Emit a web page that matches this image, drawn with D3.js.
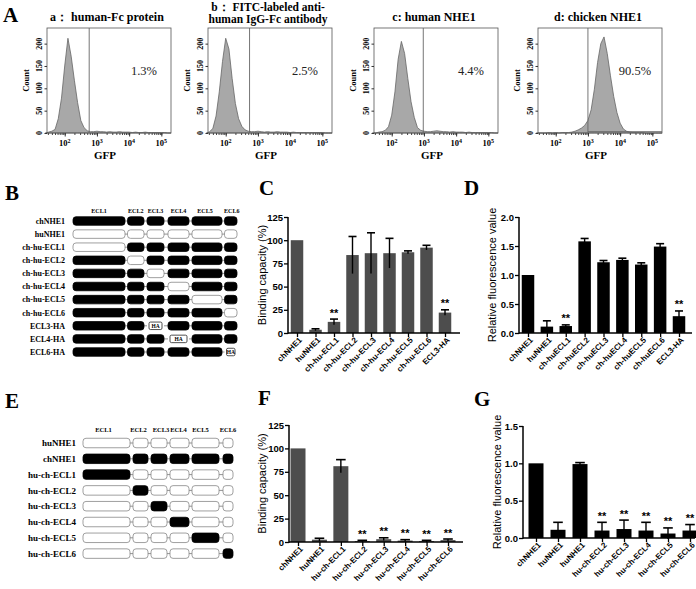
<!DOCTYPE html>
<html>
<head>
<meta charset="utf-8">
<script src="https://cdn.jsdelivr.net/npm/d3@7"></script>
<style>
  body { margin: 0; background: #fff; }
  svg { display: block; }
</style>
</head>
<body>
<svg id="fig" width="696" height="589"></svg>
<script>
// ---------- data ----------
// flow cytometry histograms (log10 GFP bin, counts)
var gfpBins = [1.4,1.5,1.6,1.7,1.8,1.9,2.0,2.1,2.2,2.3,2.4,2.5,2.6,2.7,2.8,2.9,3.0,3.1,3.2,3.3,
               3.4,3.5,3.6,3.7,3.8,3.9,4.0,4.1,4.2,4.3,4.4,4.5,4.6,4.7,4.8,4.9,5.0,5.1,5.2,5.3];
var countA = [0,2,4,8,32,78,150,212,172,118,68,28,12,5,3,3,4,3,3,2,3,2,2,3,2,2,2,1,2,1,1,2,1,1,1,1,1,1,0,0];
var countB = [0,3,10,38,92,160,212,188,122,66,32,15,7,4,3,3,4,3,2,3,2,2,3,2,2,2,1,2,1,1,1,1,1,1,1,1,1,0,0,0];
var countC = [0,0,2,3,6,14,40,92,165,205,178,122,70,35,12,6,4,3,3,4,5,4,3,3,2,3,2,2,2,1,2,1,1,1,1,1,1,1,0,0];
var countD = [0,0,0,0,1,0,1,0,1,1,1,2,4,7,11,17,28,52,98,158,200,215,178,128,82,46,22,9,4,2,1,1,1,1,0,0,0,0,0,0];
var histTitles = [["a\uff1a  human-Fc protein"], ["b\uff1a  FITC-labeled anti-", "human IgG-Fc antibody"],
                  ["c: human NHE1"], ["d: chicken NHE1"]];
var histPercents = ["1.3%", "2.5%", "4.4%", "90.5%"];
var gateLog = [2.76, 2.74, 2.98, 3.0];
var countTicks = [0, 50, 100, 150, 200];
var gfpTicks = [2, 3, 4, 5];

// construct schematics
var eclNames = ["ECL1", "ECL2", "ECL3", "ECL4", "ECL5", "ECL6"];
var schemBNames = ["chNHE1", "huNHE1", "ch-hu-ECL1", "ch-hu-ECL2", "ch-hu-ECL3", "ch-hu-ECL4",
                   "ch-hu-ECL5", "ch-hu-ECL6", "ECL3-HA", "ECL4-HA", "ECL6-HA"];
var schemBRows = ["cccccc", "hhhhhh", "hccccc", "chcccc", "cchccc", "ccchcc",
                  "cccchc", "ccccch", "ccAccc", "cccAcc", "cccccA"];
var schemENames = ["huNHE1", "chNHE1", "hu-ch-ECL1", "hu-ch-ECL2", "hu-ch-ECL3", "hu-ch-ECL4",
                   "hu-ch-ECL5", "hu-ch-ECL6"];
var schemERows = ["hhhhhh", "cccccc", "chhhhh", "hchhhh", "hhchhh", "hhhchh", "hhhhch", "hhhhhc"];

// C: binding capacity
var catsC = ["chNHE1", "huNHE1", "ch-hu-ECL1", "ch-hu-ECL2", "ch-hu-ECL3", "ch-hu-ECL4", "ch-hu-ECL5", "ch-hu-ECL6", "ECL3-HA"];
var valsC = [100, 3.5, 12, 84, 86, 86, 87, 92, 22];
var errsC = [0, 1, 3, 20, 22, 16, 1.5, 2.5, 3];
var starsC = ["", "", "**", "", "", "", "", "", "**"];
// D: relative fluorescence
var catsD = ["chNHE1", "huNHE1", "ch-huECL1", "ch-huECL2", "ch-huECL3", "ch-huECL4", "ch-huECL5", "ch-huECL6", "ECL3-HA"];
var valsD = [1.0, 0.11, 0.12, 1.58, 1.22, 1.26, 1.18, 1.49, 0.29];
var errsD = [0, 0.1, 0.02, 0.05, 0.03, 0.03, 0.03, 0.05, 0.09];
var starsD = ["", "", "**", "", "", "", "", "", "**"];
// F: binding capacity
var catsF = ["chNHE1", "huNHE1", "hu-ch-ECL1", "hu-ch-ECL2", "hu-ch-ECL3", "hu-ch-ECL4", "hu-ch-ECL5", "hu-ch-ECL6"];
var valsF = [100, 2.5, 81, 1, 3, 1.5, 1, 2];
var errsF = [0, 1.5, 7, 0.8, 1.5, 1, 0.8, 1.2];
var starsF = ["", "", "", "**", "**", "**", "**", "**"];
// G: relative fluorescence
var catsG = ["chNHE1", "huNHE1", "huNHE1", "hu-ch-ECL2", "hu-ch-ECL3", "hu-ch-ECL4", "hu-ch-ECL5", "hu-ch-ECL6"];
var valsG = [1.0, 0.11, 0.99, 0.10, 0.12, 0.10, 0.06, 0.10];
var errsG = [0, 0.1, 0.02, 0.11, 0.12, 0.11, 0.075, 0.08];
var starsG = ["", "", "", "**", "**", "**", "**", "**"];

// ---------- drawing ----------
var SERIF = "'Liberation Serif','Times New Roman',serif";
var SANS = "'Liberation Sans',Arial,sans-serif";
var svg = d3.select("#fig");

function letter(t, x, y) {
    svg.append("text").attr("x", x).attr("y", y)
        .style("font-family", SERIF).style("font-weight", "bold").style("font-size", "21px")
        .text(t);
}

letter("A", 3, 22);
letter("B", 5, 200);
letter("C", 259, 195);
letter("D", 464, 195);
letter("E", 5, 408);
letter("F", 258, 405);
letter("G", 474, 406);

// ----- panel A histograms -----
var histLeft = [47, 208, 374, 538];
var histW = 124, histTop = 28, histBottom = 133;
var counts = [countA, countB, countC, countD];

counts.forEach(function (cnt, k) {
    var left = histLeft[k];
    var g = svg.append("g");
    var x = d3.scaleLog().domain([Math.pow(10, 1.45), Math.pow(10, 5.3)]).range([left, left + histW]);
    var y = d3.scaleLinear().domain([0, 235]).range([histBottom, histTop]);

    var pts = gfpBins.map(function (b, i) { return { v: Math.pow(10, b), c: cnt[i] }; });
    g.append("path").datum(pts)
        .attr("d", d3.area().x(function (d) { return x(d.v); }).y0(y(0)).y1(function (d) { return y(d.c); }))
        .attr("fill", "#a8a8a8").attr("stroke", "#666").attr("stroke-width", 0.8);

    // frame
    g.append("rect").attr("x", left).attr("y", histTop).attr("width", histW).attr("height", histBottom - histTop)
        .attr("fill", "none").attr("stroke", "#555").attr("stroke-width", 0.8);

    // gate
    var gx = x(Math.pow(10, gateLog[k]));
    g.append("line").attr("x1", gx).attr("x2", gx).attr("y1", histTop).attr("y2", histBottom)
        .attr("stroke", "#666").attr("stroke-width", 0.9);
    if (k === 3) {
        g.append("line").attr("x1", gx).attr("x2", left + histW).attr("y1", y(3)).attr("y2", y(3))
            .attr("stroke", "#666").attr("stroke-width", 0.9);
    }

    // x axis minor + major ticks
    var minor = x.ticks().filter(function (t) { return x(t) >= left && x(t) <= left + histW; });
    g.append("g").attr("transform", "translate(0," + histBottom + ")")
        .call(d3.axisBottom(x).tickValues(minor).tickSize(2).tickFormat("").tickSizeOuter(0))
        .call(function (s) { s.select(".domain").remove(); s.selectAll("line").attr("stroke", "#444"); });
    g.append("g").attr("transform", "translate(0," + histBottom + ")")
        .call(d3.axisBottom(x).tickValues(gfpTicks.map(function (p) { return Math.pow(10, p); }))
            .tickSize(3.5).tickFormat("").tickSizeOuter(0))
        .call(function (s) { s.select(".domain").remove(); s.selectAll("line").attr("stroke", "#333"); });

    var lab = g.selectAll(".xl").data(gfpTicks).enter().append("text")
        .attr("x", function (p) { return x(Math.pow(10, p)); }).attr("y", 146)
        .attr("text-anchor", "middle")
        .style("font-family", SERIF).style("font-weight", "bold").style("font-size", "8.5px");
    lab.append("tspan").text("10");
    lab.append("tspan").attr("dy", -3).style("font-size", "6px").text(function (p) { return p; });

    // y axis
    g.append("g").attr("transform", "translate(" + left + ",0)")
        .call(d3.axisLeft(y).tickValues(countTicks).tickSize(2.5).tickFormat("").tickSizeOuter(0))
        .call(function (s) { s.select(".domain").remove(); s.selectAll("line").attr("stroke", "#333"); });
    g.selectAll(".yl").data(countTicks).enter().append("text")
        .attr("transform", function (t) { return "translate(" + (left - 5.5) + "," + y(t) + ") rotate(-90)"; })
        .attr("text-anchor", "middle")
        .style("font-family", SERIF).style("font-weight", "bold").style("font-size", "8px")
        .text(function (t) { return t; });
    g.append("text")
        .attr("transform", "translate(" + (left - 18) + "," + ((histTop + histBottom) / 2) + ") rotate(-90)")
        .attr("text-anchor", "middle")
        .style("font-family", SERIF).style("font-weight", "bold").style("font-size", "8.5px")
        .text("Count");

    // labels
    g.append("text").attr("x", left + histW / 2 - 4).attr("y", 159).attr("text-anchor", "middle")
        .style("font-family", SERIF).style("font-weight", "bold").style("font-size", "11px").text("GFP");
    var tl = histTitles[k];
    tl.forEach(function (line, j) {
        g.append("text").attr("x", left + histW / 2 - 2).attr("y", tl.length > 1 ? 11 + j * 12 : 21)
            .attr("text-anchor", "middle")
            .style("font-family", SERIF).style("font-weight", "bold")
            .style("font-size", tl.length > 1 ? "11.5px" : "12px")
            .text(line);
    });
    g.append("text").attr("x", left + 97).attr("y", 75).attr("text-anchor", "middle")
        .style("font-family", SERIF).style("font-size", "12.5px").style("fill", "#222")
        .text(histPercents[k]);
});

// ----- schematics B / E -----
function schematic(names, rows, o) {
    var g = svg.append("g");
    var y = d3.scalePoint().domain(d3.range(names.length)).range([o.y0, o.y0 + (names.length - 1) * o.dy]);
    var segs = o.segs;

    g.selectAll(".hd").data(eclNames).enter().append("text")
        .attr("x", function (d, i) { return (segs[i][0] + segs[i][1]) / 2 + (o.hdShift ? o.hdShift[i] : 0); })
        .attr("y", o.headerY).attr("text-anchor", "middle")
        .style("font-family", SERIF).style("font-weight", "bold").style("font-size", o.hdSize + "px")
        .text(function (d) { return d; });

    names.forEach(function (name, r) {
        var cy = y(r);
        g.append("text").attr("x", o.labelX).attr("y", cy + o.fs * 0.35).attr("text-anchor", "end")
            .style("font-family", SERIF).style("font-weight", "bold").style("font-size", o.fs + "px")
            .text(name);
        for (var i = 0; i < segs.length - 1; i++) {
            g.append("line").attr("x1", segs[i][1]).attr("x2", segs[i + 1][0]).attr("y1", cy).attr("y2", cy)
                .attr("stroke", "#777").attr("stroke-width", 0.8);
        }
        rows[r].split("").forEach(function (t, i) {
            var x0 = segs[i][0], x1 = segs[i][1];
            if (t === "A") {
                g.append("rect").attr("x", x0 + 2).attr("y", cy - o.h / 2 + 0.5).attr("width", x1 - x0 - 4)
                    .attr("height", o.h - 1).attr("rx", 1.5).attr("fill", "#fff").attr("stroke", "#222").attr("stroke-width", 0.8);
                g.append("text").attr("x", (x0 + x1) / 2).attr("y", cy + 2).attr("text-anchor", "middle")
                    .style("font-family", SERIF).style("font-weight", "bold").style("font-size", "5.5px").text("HA");
            } else {
                g.append("rect").attr("x", x0).attr("y", cy - o.h / 2).attr("width", x1 - x0).attr("height", o.h)
                    .attr("rx", 3).attr("fill", t === "c" ? "#000" : "#fff")
                    .attr("stroke", t === "c" ? "#000" : "#888").attr("stroke-width", 0.8);
            }
        });
    });
}

schematic(schemBNames, schemBRows, {
    y0: 221, dy: 13.1, h: 8.5, labelX: 65, headerY: 213, fs: 8, hdSize: 6,
    segs: [[73, 125], [127.5, 144], [147, 164], [168, 189], [192, 222], [224.5, 237]],
    hdShift: [0, 0, 0, 0, -2, 1]
});
schematic(schemENames, schemERows, {
    y0: 443, dy: 15.8, h: 9.5, labelX: 76, headerY: 432, fs: 9, hdSize: 6.5,
    segs: [[83, 130], [133, 148], [151, 167], [170, 189], [192, 219], [223, 233]],
    hdShift: [-3, -2, 2, -1, -5, 0]
});

// ----- bar charts -----
function barChart(o) {
    var g = svg.append("g");
    var n = o.cats.length;
    var x = d3.scalePoint().domain(d3.range(n)).range([o.c0, o.c1]);
    var y = d3.scaleLinear().domain([0, o.max]).range([o.y0, o.y1]);

    g.selectAll(".bar").data(o.vals).enter().append("rect")
        .attr("x", function (d, i) { return x(i) - o.bw / 2; })
        .attr("y", function (d) { return y(d); })
        .attr("width", o.bw)
        .attr("height", function (d) { return y(0) - y(d); })
        .attr("fill", o.fill);

    // error bars
    o.vals.forEach(function (v, i) {
        var e = o.errs[i];
        if (!e) return;
        g.append("line").attr("x1", x(i)).attr("x2", x(i)).attr("y1", y(v - e)).attr("y2", y(v + e))
            .attr("stroke", "#000").attr("stroke-width", 1.4);
        g.append("line").attr("x1", x(i) - o.bw * 0.32).attr("x2", x(i) + o.bw * 0.32)
            .attr("y1", y(v + e)).attr("y2", y(v + e)).attr("stroke", "#000").attr("stroke-width", 1.6);
        if (o.stars[i]) {
            g.append("text").attr("x", x(i)).attr("y", y(v + e) - 2.5).attr("text-anchor", "middle")
                .style("font-family", SANS).style("font-size", "11px").style("font-weight", "bold")
                .text(o.stars[i]);
        }
    });

    // y axis
    g.append("g").attr("transform", "translate(" + o.ax + ",0)")
        .call(d3.axisLeft(y).tickValues(o.ticks).tickFormat(o.fmt).tickSize(4).tickSizeOuter(0))
        .call(function (s) {
            s.select(".domain").attr("stroke-width", 1.5).attr("d", "M0," + (o.y0 + 0.75) + "V" + o.y1);
            s.selectAll("line").attr("stroke-width", 1.3);
            s.selectAll("text").style("font-family", SANS).style("font-size", "9.5px").style("font-weight", "bold").attr("x", -5);
        });

    // x axis
    g.append("g").attr("transform", "translate(0," + o.y0 + ")")
        .call(d3.axisBottom(x).tickSize(4).tickSizeOuter(0).tickFormat(function (i) { return o.cats[i]; }))
        .call(function (s) {
            s.select(".domain").attr("stroke-width", 1.5).attr("d", "M" + o.ax + ",0H" + o.axEnd);
            s.selectAll("line").attr("stroke-width", 1.3);
            s.selectAll("text").attr("x", -2).attr("y", 6).attr("dy", "0.35em")
                .attr("transform", "rotate(-45)").style("text-anchor", "end")
                .style("font-family", SANS).style("font-size", "8px").style("font-weight", "bold");
        });

    g.append("text")
        .attr("transform", "translate(" + o.lx + "," + ((o.y0 + o.y1) / 2) + ") rotate(-90)")
        .attr("text-anchor", "middle")
        .style("font-family", SANS).style("font-size", "11px")
        .text(o.ylabel);
}

barChart({ cats: catsC, vals: valsC, errs: errsC, stars: starsC, fill: "#4d4d4d",
    c0: 297, c1: 445, bw: 12.5, ax: 288, axEnd: 460, y0: 333, y1: 217, max: 125,
    ticks: [0, 25, 50, 75, 100, 125], fmt: d3.format("d"), lx: 266, ylabel: "Binding capacity (%)" });
barChart({ cats: catsD, vals: valsD, errs: errsD, stars: starsD, fill: "#000",
    c0: 528, c1: 679, bw: 12.5, ax: 519, axEnd: 692, y0: 333, y1: 217, max: 2.0,
    ticks: [0, 0.5, 1.0, 1.5, 2.0], fmt: d3.format(".1f"), lx: 496, ylabel: "Relative fluorescence value" });
barChart({ cats: catsF, vals: valsF, errs: errsF, stars: starsF, fill: "#4d4d4d",
    c0: 298, c1: 448, bw: 15, ax: 289, axEnd: 463, y0: 542, y1: 425, max: 125,
    ticks: [0, 25, 50, 75, 100, 125], fmt: d3.format("d"), lx: 266, ylabel: "Binding capacity (%)" });
barChart({ cats: catsG, vals: valsG, errs: errsG, stars: starsG, fill: "#000",
    c0: 536, c1: 690, bw: 15, ax: 523, axEnd: 695, y0: 538, y1: 426, max: 1.5,
    ticks: [0, 0.5, 1.0, 1.5], fmt: d3.format(".1f"), lx: 501, ylabel: "Relative fluorescence value" });
</script>
</body>
</html>
